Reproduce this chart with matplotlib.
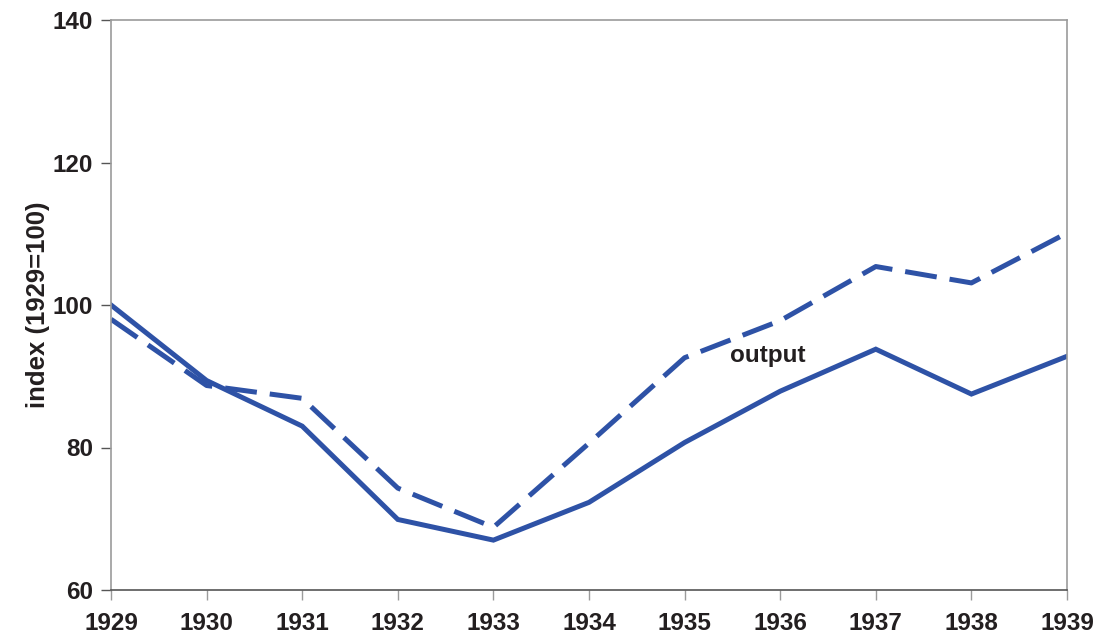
import matplotlib.pyplot as plt

plt.rcParams['font.family'] = ['Liberation Sans', 'DejaVu Sans']
plt.rcParams['font.weight'] = 'bold'

years = [1929, 1930, 1931, 1932, 1933, 1934, 1935, 1936, 1937, 1938, 1939]
output = [100, 89.4, 83, 69.9, 67, 72.3, 80.7, 87.9, 93.8, 87.5, 92.8]
dashed = [98, 88.7, 86.9, 74.3, 68.8, 80.6, 92.6, 97.8, 105.4, 103.1, 110.1]

blue = '#2E52A6'
txt = '#231F20'

fig = plt.figure(figsize=(10.97, 6.39), dpi=100)
ax = fig.add_axes([111 / 1097, 1 - 590 / 639, (1067 - 111) / 1097, (590 - 20) / 639])

ax.plot(years, output, color=blue, lw=3.6, solid_joinstyle='miter')
ax.plot(years, dashed, color=blue, lw=3.6, dashes=(6.4, 2.6))

ax.text(1935.47, 92.9, 'output', fontsize=17.5, fontweight='bold', color=txt, va='center')

ax.set_xlim(1929, 1939)
ax.set_ylim(60, 140)
ax.set_xticks(years)
ax.set_yticks([60, 80, 100, 120, 140])
ax.set_ylabel('index (1929=100)', fontsize=18.5, fontweight='bold', color=txt, labelpad=2)

for s in ['left', 'top', 'right']:
    ax.spines[s].set_color('#9B9B9B')
    ax.spines[s].set_linewidth(1.2)
ax.spines['bottom'].set_color('#555555')
ax.spines['bottom'].set_linewidth(1.2)

ax.tick_params(axis='y', direction='out', length=7, width=1, color='#555555',
               labelsize=17.5, labelcolor=txt, pad=6)
ax.tick_params(axis='x', direction='out', length=7, width=1, color='#9B9B9B',
               labelsize=17.5, labelcolor=txt, pad=9)

fig.savefig('out.png', dpi=100)
